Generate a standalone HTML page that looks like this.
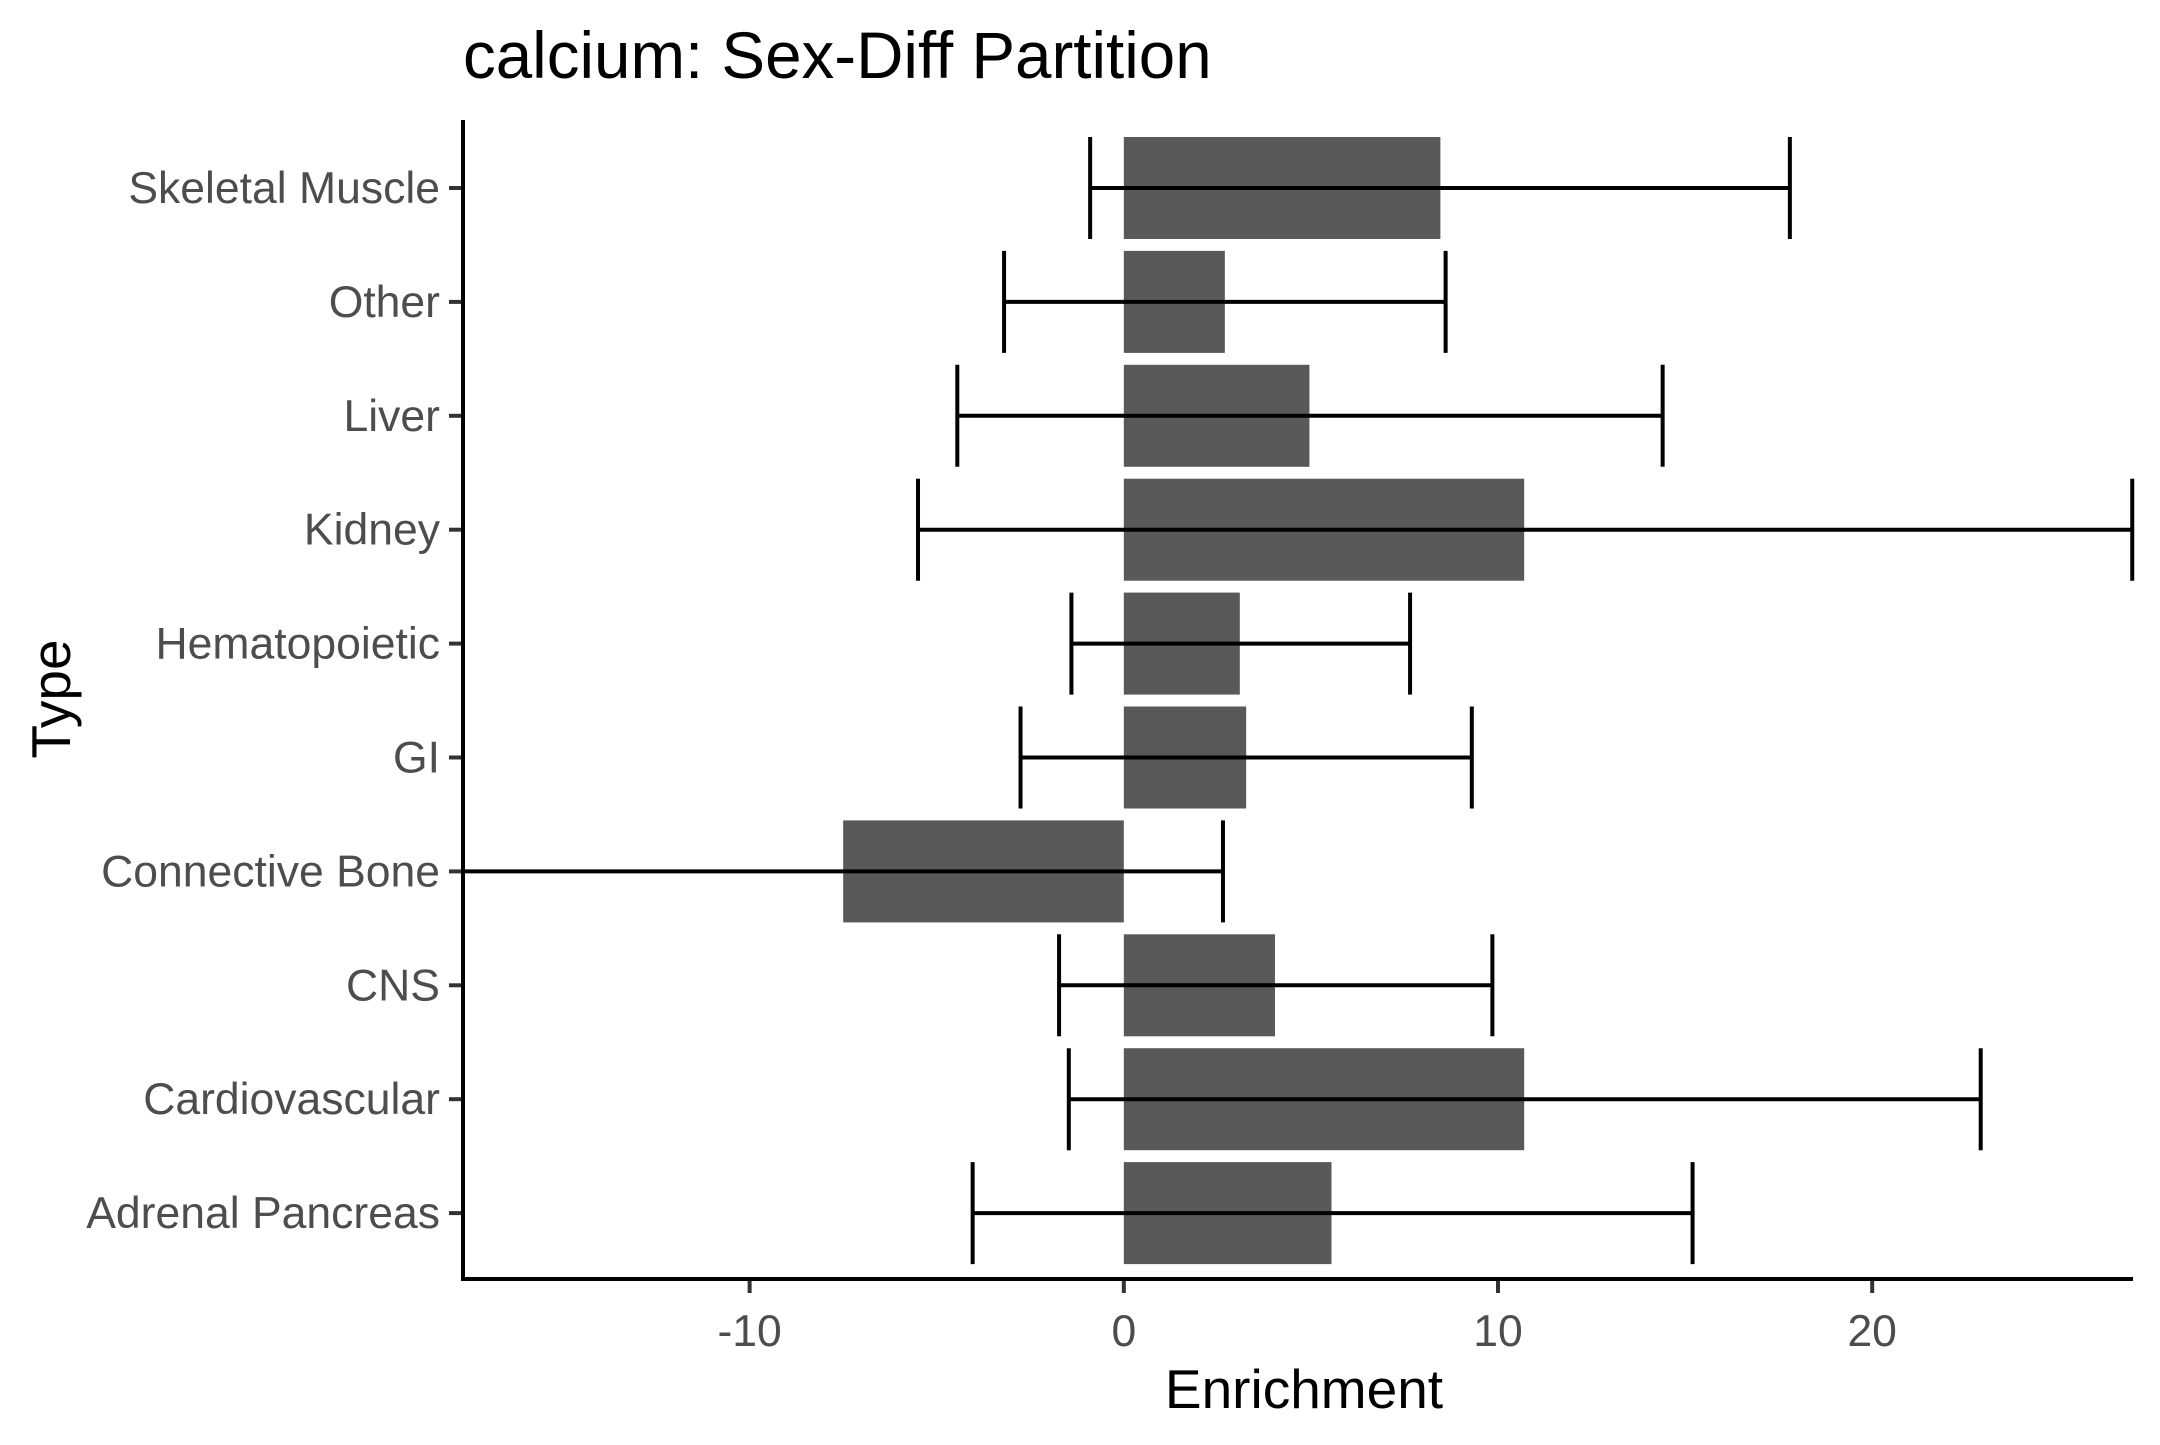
<!DOCTYPE html>
<html><head><meta charset="utf-8"><style>
body{margin:0;background:#fff}
text{font-family:"Liberation Sans",sans-serif}
</style></head><body>
<svg id="chart" width="2160" height="1440" xmlns="http://www.w3.org/2000/svg">
<defs><clipPath id="pc"><rect x="463" y="100" width="1672" height="1200"/></clipPath></defs>
<text x="463" y="78" font-size="65.5" fill="#000">calcium: Sex-Diff Partition</text>
<g id="plot"></g>
</svg>
<script>
const categories=["Skeletal Muscle","Other","Liver","Kidney","Hematopoietic","GI","Connective Bone","CNS","Cardiovascular","Adrenal Pancreas"];
const values=[8.46,2.7,4.96,10.7,3.1,3.27,-7.5,4.04,10.7,5.55];
const lower=[-0.9,-3.2,-4.45,-5.5,-1.4,-2.76,-18.5,-1.73,-1.47,-4.04];
const upper=[17.8,8.6,14.4,26.95,7.65,9.3,2.65,9.85,22.9,15.2];
const xTicks=[-10,0,10,20];
const xMin=-17.66,xMax=26.97;
const L=463,R=2133,T=120,B=1279;
const y0=188,step=113.9,bandH=102;
const sx=v=>L+(v-xMin)/(xMax-xMin)*(R-L);
const sy=i=>y0+i*step;
const NS="http://www.w3.org/2000/svg";
const g=document.getElementById('plot');
function mk(tag,attrs){const e=document.createElementNS(NS,tag);for(const k in attrs)e.setAttribute(k,attrs[k]);g.appendChild(e);return e;}
categories.forEach((c,i)=>{
  const y=sy(i),v=values[i];
  const r=mk('rect',{x:Math.min(sx(0),sx(v)),y:y-bandH/2,width:Math.abs(sx(v)-sx(0)),height:bandH,fill:'#595959'});
  
  
  const eg=document.createElementNS(NS,'g');g.appendChild(eg);
  eg.setAttribute('clip-path','url(#pc)');
  
  
  const a=sx(lower[i]),b=sx(upper[i]);
  [[a,y,b,y],[a,y-bandH/2,a,y+bandH/2],[b,y-bandH/2,b,y+bandH/2]].forEach(l=>{
    const ln=document.createElementNS(NS,'line');
    ln.setAttribute('x1',l[0]);ln.setAttribute('y1',l[1]);ln.setAttribute('x2',l[2]);ln.setAttribute('y2',l[3]);
    ln.setAttribute('stroke','#000');ln.setAttribute('stroke-width','4');eg.appendChild(ln);
  });
  const t=mk('line',{x1:L-14,y1:y,x2:L,y2:y,stroke:'#333','stroke-width':4});
  
  
  const lb=mk('text',{x:440,y:y+15,'font-size':44.5,fill:'#4d4d4d','text-anchor':'end'});
  lb.textContent=c;
  
  
});
xTicks.forEach(v=>{
  const t=mk('line',{x1:sx(v),y1:B,x2:sx(v),y2:B+14,stroke:'#333','stroke-width':4});
  
  
  const lb=mk('text',{x:sx(v),y:1346,'font-size':44.5,fill:'#4d4d4d','text-anchor':'middle'});
  lb.textContent=v;
  
  
});
const ax=mk('line',{x1:L,y1:T,x2:L,y2:B+2,stroke:'#000','stroke-width':4});


const ax2=mk('line',{x1:L-2,y1:B,x2:R,y2:B,stroke:'#000','stroke-width':4});


const xt=mk('text',{x:1304,y:1408,'font-size':55,fill:'#000','text-anchor':'middle'});
xt.textContent='Enrichment';


const yt=mk('text',{x:0,y:0,'font-size':55,fill:'#000','text-anchor':'middle',transform:'translate(70,699) rotate(-90)'});
yt.textContent='Type';


</script>
</body></html>
